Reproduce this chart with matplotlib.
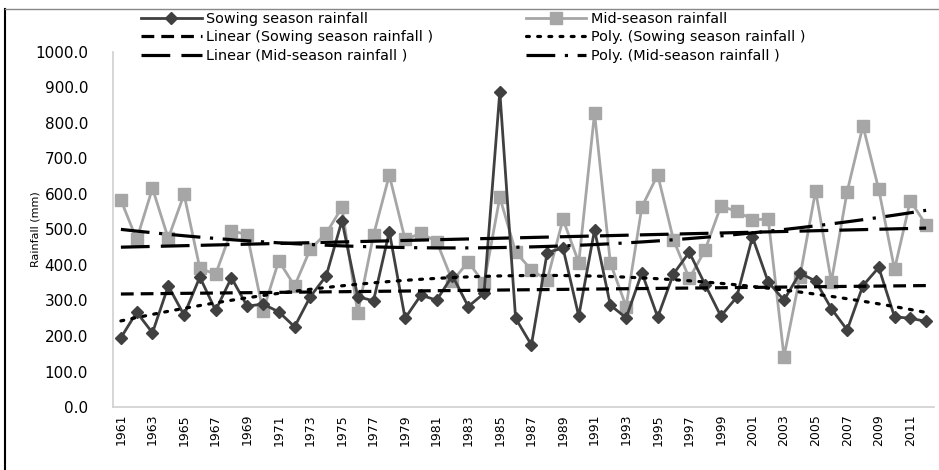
import matplotlib
matplotlib.use('Agg')
import matplotlib.pyplot as plt
from matplotlib.lines import Line2D
import numpy as np

plt.rcParams['font.family'] = ['DejaVu Sans']

years = list(range(1961, 2013))

# Sowing season rainfall (mm)
sowing = [195, 267, 209, 341, 259, 366, 272, 364, 284, 290,
          268, 226, 311, 369, 525, 311, 299, 494, 250, 315,
          301, 370, 283, 320, 888, 250, 175, 435, 448, 256,
          499, 287, 251, 378, 253, 375, 436, 345, 256, 309,
          479, 352, 301, 377, 355, 277, 217, 342, 393, 254,
          250, 241]

# Mid-season rainfall (mm)
mid_season = [583, 472, 616, 475, 599, 391, 374, 497, 485, 270,
              412, 341, 445, 489, 562, 264, 484, 653, 472, 489,
              466, 355, 409, 348, 591, 437, 386, 358, 529, 407,
              828, 406, 283, 564, 654, 471, 362, 442, 566, 551,
              528, 529, 142, 365, 609, 353, 607, 792, 613, 388,
              581, 513]

y_ticks = [0, 100, 200, 300, 400, 500, 600, 700, 800, 900, 1000]

x = np.arange(len(years))
sow = np.array(sowing, dtype=float)
mid = np.array(mid_season, dtype=float)

# trend lines (linear and 2nd order polynomial)
sow_lin = np.polyval(np.polyfit(x, sow, 1), x)
sow_poly = np.polyval(np.polyfit(x, sow, 2), x)
mid_lin = np.polyval(np.polyfit(x, mid, 1), x)
mid_poly = np.polyval(np.polyfit(x, mid, 2), x)

fig = plt.figure(figsize=(9.39, 4.70), dpi=100)
ax = fig.add_axes([113 / 939, 1 - 407 / 470, 821 / 939, 355 / 470])

mid_line, = ax.plot(x, mid, color='#a6a6a6', lw=2.0, marker='s', ms=8.5,
                    mec='#a6a6a6', mfc='#a6a6a6', zorder=2)
sow_line, = ax.plot(x, sow, color='#404040', lw=2.0, marker='D', ms=6.5,
                    mec='#404040', mfc='#404040', zorder=3)

l1, = ax.plot(x, sow_lin, color='black', lw=2.3, dashes=(4, 2.2), zorder=4)
l2, = ax.plot(x, sow_poly, color='black', lw=2.3, dashes=(0.9, 2.6),
              dash_capstyle='round', zorder=4)
l3, = ax.plot(x, mid_lin, color='black', lw=2.3, dashes=(9, 3.5), zorder=4)
l4, = ax.plot(x, mid_poly, color='black', lw=2.3, dashes=(9, 3, 1, 3), zorder=4)

ax.set_xlim(-0.5, len(years) - 0.5)
ax.set_ylim(0, 1000)
ax.set_yticks(y_ticks)
ax.set_yticklabels([f'{v:.1f}' for v in y_ticks], fontsize=11)
ax.set_xticks(x[::2])
ax.set_xticklabels([str(y) for y in years[::2]], rotation=90, fontsize=9)
ax.tick_params(axis='both', length=0, pad=5)
ax.tick_params(axis='y', pad=18)
ax.set_ylabel('Rainfall (mm)', fontsize=8)
ax.yaxis.set_label_coords(-0.088, 0.5)

for side in ['top', 'right']:
    ax.spines[side].set_visible(False)
for side in ['left', 'bottom']:
    ax.spines[side].set_color('#d0d0d0')
    ax.spines[side].set_linewidth(1.2)

# legend laid out row by row: series first, then trend lines
handles = [sow_line, l1, l3, mid_line, l2, l4]
labels = ['Sowing season rainfall', 'Linear (Sowing season rainfall )',
          'Linear (Mid-season rainfall )', 'Mid-season rainfall',
          'Poly. (Sowing season rainfall )', 'Poly. (Mid-season rainfall )']
fig.legend(handles, labels, loc='upper left', bbox_to_anchor=(128 / 939, 1 + 1 / 470),
           ncol=2, frameon=False, fontsize=10.4, handlelength=4.2,
           handletextpad=0.3, columnspacing=6.4, labelspacing=0.3)

# chart border
fig.add_artist(Line2D([5 / 939, 5 / 939], [0, 1 - 9 / 470], color='black', lw=1.5))
fig.add_artist(Line2D([5 / 939, 1], [1 - 9 / 470, 1 - 9 / 470], color='#888888', lw=1.0))

fig.savefig('out.png', dpi=100)
